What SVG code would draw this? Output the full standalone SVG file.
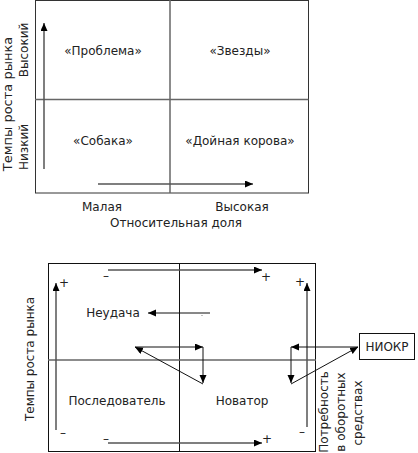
<svg xmlns="http://www.w3.org/2000/svg" width="418" height="453" viewBox="0 0 418 453">
<style>
text{font-family:"DejaVu Sans","Liberation Sans",sans-serif;font-size:12px;fill:#222}
.m{text-anchor:middle}
.box{fill:none;stroke:#333;stroke-width:1}
.div{stroke:#666;stroke-width:1.5;fill:none}
.blk{stroke:#111;stroke-width:1;fill:none}
.ax{stroke:#555;stroke-width:1.5;fill:none}
.ar{stroke:#111;stroke-width:1;fill:none}
.ps{font-size:12px}
</style>
<defs>
<marker id="ah" markerUnits="userSpaceOnUse" markerWidth="9" markerHeight="8" refX="8" refY="3.5" orient="auto">
<path d="M0,0 L8,3.5 L0,7 z" fill="#000"/>
</marker>
</defs>
<rect width="418" height="453" fill="#fff"/>

<!-- Top matrix -->
<g id="matrix-bcg">
<rect class="box" x="35.5" y="0.5" width="273" height="192.5"/>
<line class="div" x1="170" y1="0" x2="170" y2="193"/>
<line class="div" x1="35" y1="99.5" x2="308.5" y2="99.5"/>
</g>
<g id="q-problem"><text class="m" x="103" y="55">«Проблема»</text></g>
<g id="q-stars"><text class="m" x="240" y="55">«Звезды»</text></g>
<g id="q-dog"><text class="m" x="103" y="145">«Собака»</text></g>
<g id="q-cow"><text class="m" x="240" y="145">«Дойная корова»</text></g>
<g id="top-labels">
<text class="m" style="font-size:13px" transform="translate(12,104) rotate(-90)">Темпы роста рынка</text>
<text class="m" transform="translate(28,50) rotate(-90)">Высокий</text>
<text class="m" transform="translate(28,147) rotate(-90)">Низкий</text>
<text class="m" x="102" y="211">Малая</text>
<text class="m" x="242" y="211">Высокая</text>
<text class="m" x="176" y="227">Относительная доля</text>
</g>

<!-- Bottom matrix -->
<g id="matrix-2">
<rect class="blk" x="48.5" y="263.5" width="267" height="188"/>
<line class="blk" x1="179.5" y1="263" x2="179.5" y2="452"/>
<line class="div" x1="48" y1="360" x2="316" y2="360"/>
</g>
<g id="n-fail"><text class="m" x="113" y="317">Неудача</text></g>
<g id="n-follower"><text class="m" x="117" y="405">Последователь</text></g>
<g id="n-innovator"><text class="m" x="242" y="405">Новатор</text></g>
<g id="n-niokr">
<rect class="blk" x="359.5" y="333.5" width="55" height="26"/>
<text class="m" x="387" y="351">НИОКР</text>
</g>
<g id="bottom-labels">
<text class="m" transform="translate(34,359) rotate(-90)">Темпы роста рынка</text>
<text class="m" transform="translate(328,412) rotate(-90)">Потребность</text>
<text class="m" transform="translate(345,412) rotate(-90)">в оборотных</text>
<text class="m" transform="translate(362,413) rotate(-90)">средствах</text>
<text class="m ps" x="106" y="280">–</text>
<text class="m ps" x="266" y="281">+</text>
<text class="m ps" x="64" y="287">+</text>
<text class="m ps" x="63" y="437">–</text>
<text class="m ps" x="106" y="443">–</text>
<text class="m ps" x="267" y="443">+</text>
<text class="m ps" x="300" y="286">+</text>
<text class="m ps" x="302" y="436">–</text>
</g>

<!-- Connectors -->
<g id="connectors">
<line class="ax" x1="44" y1="169" x2="44" y2="23" marker-end="url(#ah)"/>
<line class="ax" x1="98" y1="184" x2="253" y2="184" marker-end="url(#ah)"/>
<line class="ax" x1="108" y1="270" x2="262" y2="270" marker-end="url(#ah)"/>
<line class="ax" x1="108" y1="443" x2="262" y2="443" marker-end="url(#ah)"/>
<line class="ax" x1="56" y1="430" x2="56" y2="283" marker-end="url(#ah)"/>
<line class="ax" x1="307" y1="427" x2="307" y2="283" marker-end="url(#ah)"/>
<line class="ar" x1="210" y1="313" x2="148" y2="313" marker-end="url(#ah)"/>
<circle cx="202" cy="315.5" r="0.6" fill="#777"/>
<line class="ar" x1="135" y1="347" x2="203" y2="347" marker-end="url(#ah)"/>
<line class="ar" x1="203" y1="347" x2="203" y2="383" marker-end="url(#ah)"/>
<line class="ar" stroke-width="0.8" x1="203" y1="384" x2="135" y2="347" marker-end="url(#ah)"/>
<line class="ar" x1="358" y1="347" x2="291" y2="347" marker-end="url(#ah)"/>
<line class="ar" x1="291" y1="347" x2="291" y2="383" marker-end="url(#ah)"/>
<line class="ar" stroke-width="0.8" x1="291" y1="384" x2="358" y2="347" marker-end="url(#ah)"/>
</g>
</svg>
